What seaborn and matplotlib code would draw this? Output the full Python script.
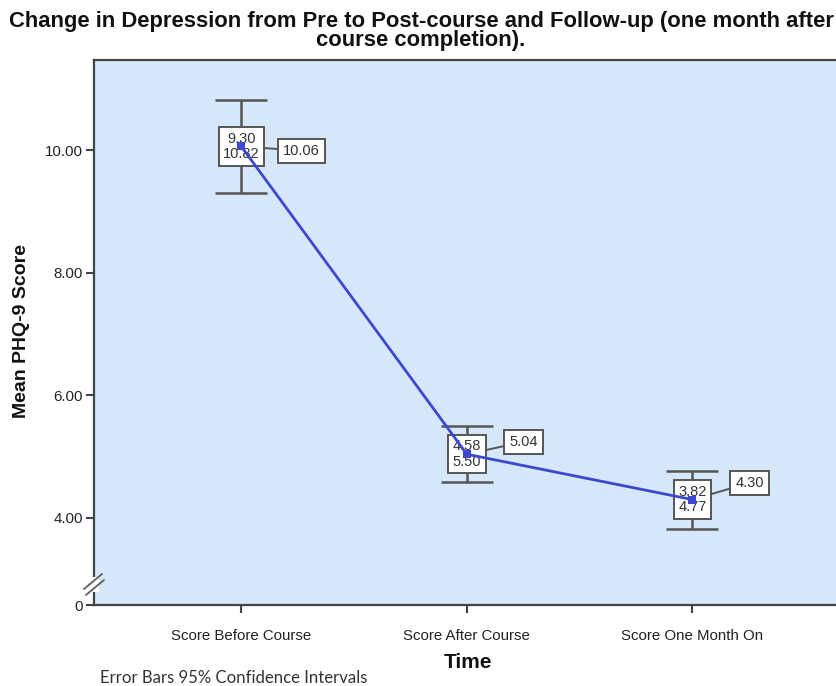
import matplotlib
matplotlib.use("Agg")
import matplotlib.pyplot as plt
import seaborn as sns
import pandas as pd
import numpy as np

# ---- data ----
categories = ["Score Before Course", "Score After Course", "Score One Month On"]
means = [10.06, 5.04, 4.30]
ci_lower = [9.30, 4.58, 3.82]
ci_upper = [10.82, 5.50, 4.77]
ytick_values = [4.0, 6.0, 8.0, 10.0]
ytick_labels = ["4.00", "6.00", "8.00", "10.00"]
break_label = "0"
title = ("Change in Depression from Pre to Post-course and Follow-up (one month after\n"
         "course completion).")
ylabel = "Mean PHQ-9 Score"
xlabel = "Time"
note = "Error Bars 95% Confidence Intervals"

df = pd.DataFrame({"Time": categories, "Mean": means,
                   "Lower": ci_lower, "Upper": ci_upper})

sns.set_theme(style="white")
plt.rcParams["font.family"] = ["Liberation Sans", "DejaVu Sans"]

fig = plt.figure(figsize=(8.37, 6.86), dpi=100)
ax = fig.add_axes([0.1123, 0.118, 0.891, 0.7945])
ax.set_facecolor("#d5e7f8")

# mean line + markers
sns.pointplot(data=df, x="Time", y="Mean", color="#3b48cf", markers="s",
              errorbar=None, linewidth=2.0, markersize=4, ax=ax, zorder=4)

pos = np.arange(len(df))
lo = df["Lower"].to_numpy()
hi = df["Upper"].to_numpy()
mu = df["Mean"].to_numpy()
ax.errorbar(pos, mu, yerr=[mu - lo, hi - mu], fmt="none", ecolor="#555555",
            elinewidth=1.8, capsize=18.5, capthick=1.8, zorder=1)

box_kw = dict(boxstyle="square,pad=0.3", fc="white", ec="#555555", lw=1.4)
mean_offsets = [(43, -3), (41, 9), (41, 12)]
for i, row in df.iterrows():
    ax.annotate(f"{row.Lower:.2f}\n{row.Upper:.2f}", xy=(i, row.Mean),
                ha="center", va="center", fontsize=10.5, color="#333333",
                linespacing=1.15, bbox=box_kw, zorder=3)
    ax.annotate(f"{row.Mean:.2f}", xy=(i, row.Mean), xytext=mean_offsets[i],
                textcoords="offset points", ha="center", va="center",
                fontsize=10.5, color="#333333",
                bbox=dict(boxstyle="square,pad=0.35", fc="white", ec="#555555", lw=1.4),
                zorder=2,
                arrowprops=dict(arrowstyle="-", color="#555555", lw=1.4,
                                shrinkA=0, shrinkB=0))

ymin, ymax = 2.58, 11.47
ax.set_ylim(ymin, ymax)
ax.set_xlim(-0.653, 2.653)
ax.set_yticks([ymin] + ytick_values)
ax.set_yticklabels([break_label] + ytick_labels)
ax.set_xticks(pos)
ax.set_xticklabels(categories)
ax.set_xlabel("")
ax.set_ylabel("")

for s in ax.spines.values():
    s.set_color("#444444")
    s.set_linewidth(1.6)
ax.spines["right"].set_visible(False)
ax.tick_params(axis="both", which="both", direction="out", length=6, width=1.5,
               color="#444444", labelsize=10.8, labelcolor="#222222", pad=2,
               left=True, bottom=True)
ax.tick_params(axis="x", labelsize=10.8, pad=11)

# axis break marks on left spine
W, H = fig.get_size_inches() * fig.dpi
def px(xp, yp):
    return (xp / W, 1 - yp / H)
gap = plt.Polygon([px(91, 577), px(99, 577), px(99, 592), px(91, 592)],
                  closed=True, transform=fig.transFigure, fc="white", ec="none", zorder=10)
fig.add_artist(gap)
for (x0, y0, x1, y1) in [(84, 589, 102, 574), (86, 595, 104, 580)]:
    a, b = px(x0, y0), px(x1, y1)
    fig.add_artist(plt.Line2D([a[0], b[0]], [a[1], b[1]], transform=fig.transFigure,
                              color="#666666", lw=1.4, zorder=11))

fig.text(0.503, 1 - 31 / H, title, ha="center", va="center", fontsize=15.8,
         fontweight="bold", color="#111111", linespacing=0.86)
fig.text(22 / W, 1 - 331 / H, ylabel, rotation=90, ha="center", va="center",
         fontsize=14, fontweight="bold", color="#111111")
fig.text(468 / W, 1 - 663 / H, xlabel, ha="center", va="center", fontsize=15,
         fontweight="bold", color="#111111")
fig.text(100 / W, 1 - 678 / H, note, ha="left", va="center", fontsize=12.1,
         color="#333333", family=["Lato", "DejaVu Sans"])

fig.savefig("out.png", dpi=100)
